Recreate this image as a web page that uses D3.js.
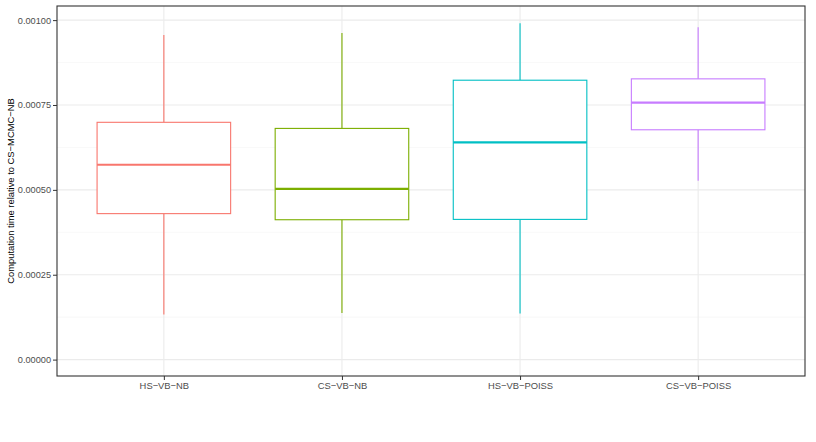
<!DOCTYPE html>
<html>
<head>
<meta charset="utf-8">
<script src="https://cdn.jsdelivr.net/npm/d3@7"></script>
<style>
  html, body { margin: 0; padding: 0; background: #fff; }
  svg { display: block; }
  text { font-family: "Liberation Sans", Arial, sans-serif; }
</style>
</head>
<body>
<svg id="chart" width="816" height="442"></svg>
<script>
const categories = ["HS−VB−NB", "CS−VB−NB", "HS−VB−POISS", "CS−VB−POISS"];
const whiskerLow  = [0.000133, 0.000137, 0.000136, 0.000527];
const q1          = [0.000430, 0.000412, 0.000413, 0.000677];
const medians     = [0.000574, 0.000503, 0.000640, 0.000757];
const q3          = [0.000699, 0.000681, 0.000823, 0.000827];
const whiskerHigh = [0.000956, 0.000962, 0.000991, 0.000979];
const colors      = ["#F8766D", "#7CAE00", "#00BFC4", "#C77CFF"];
const yTicks      = [0, 0.00025, 0.0005, 0.00075, 0.001];
const yMinor      = [0.000125, 0.000375, 0.000625, 0.000875];
const yTitle      = "Computation time relative to CS−MCMC−NB";

const svg = d3.select("#chart");
const panel = { left: 57, right: 805, top: 6, bottom: 376 };

const x = d3.scaleLinear().domain([0.4, 4.6]).range([panel.left, panel.right]);
const y = d3.scaleLinear().domain([-0.0000483, 0.0010416]).range([panel.bottom, panel.top]);
const boxHalf = (x(1.375) - x(1));

// grid
const g = svg.append("g");
g.selectAll(".minor").data(yMinor).enter().append("line")
  .attr("x1", panel.left).attr("x2", panel.right)
  .attr("y1", d => y(d)).attr("y2", d => y(d))
  .attr("stroke", "#F4F4F4").attr("stroke-width", 0.6);
g.selectAll(".major").data(yTicks).enter().append("line")
  .attr("x1", panel.left).attr("x2", panel.right)
  .attr("y1", d => y(d)).attr("y2", d => y(d))
  .attr("stroke", "#EBEBEB").attr("stroke-width", 1.1);
g.selectAll(".vmajor").data(categories).enter().append("line")
  .attr("x1", (d, i) => x(i + 1)).attr("x2", (d, i) => x(i + 1))
  .attr("y1", panel.top).attr("y2", panel.bottom)
  .attr("stroke", "#EBEBEB").attr("stroke-width", 1.1);

// boxes
const boxes = svg.append("g").selectAll("g").data(categories).enter().append("g");
boxes.append("line")
  .attr("x1", (d, i) => x(i + 1)).attr("x2", (d, i) => x(i + 1))
  .attr("y1", (d, i) => y(whiskerHigh[i])).attr("y2", (d, i) => y(q3[i]))
  .attr("stroke", (d, i) => colors[i]).attr("stroke-width", 1.1);
boxes.append("line")
  .attr("x1", (d, i) => x(i + 1)).attr("x2", (d, i) => x(i + 1))
  .attr("y1", (d, i) => y(q1[i])).attr("y2", (d, i) => y(whiskerLow[i]))
  .attr("stroke", (d, i) => colors[i]).attr("stroke-width", 1.1);
boxes.append("rect")
  .attr("x", (d, i) => x(i + 1) - boxHalf)
  .attr("width", 2 * boxHalf)
  .attr("y", (d, i) => y(q3[i]))
  .attr("height", (d, i) => y(q1[i]) - y(q3[i]))
  .attr("fill", "#fff")
  .attr("stroke", (d, i) => colors[i]).attr("stroke-width", 1.1);
boxes.append("line")
  .attr("x1", (d, i) => x(i + 1) - boxHalf).attr("x2", (d, i) => x(i + 1) + boxHalf)
  .attr("y1", (d, i) => y(medians[i])).attr("y2", (d, i) => y(medians[i]))
  .attr("stroke", (d, i) => colors[i]).attr("stroke-width", 2.1);

// panel border
svg.append("rect")
  .attr("x", panel.left).attr("y", panel.top)
  .attr("width", panel.right - panel.left).attr("height", panel.bottom - panel.top)
  .attr("fill", "none").attr("stroke", "#333333").attr("stroke-width", 1.1);

// y axis
const yAxis = d3.axisLeft(y).tickValues(yTicks).tickFormat(d3.format(".5f")).tickSize(4).tickPadding(2);
const ya = svg.append("g").attr("transform", `translate(${panel.left},0)`).call(yAxis);
ya.select(".domain").remove();
ya.selectAll(".tick line").attr("stroke", "#333333").attr("stroke-width", 1);
ya.selectAll(".tick text").attr("fill", "#4D4D4D").style("font-size", "9.2px")
  .style("font-family", "Liberation Sans, Arial, sans-serif");

// x axis
const xAxis = d3.axisBottom(x).tickValues([1, 2, 3, 4]).tickFormat(d => categories[d - 1]).tickSize(4).tickPadding(2);
const xa = svg.append("g").attr("transform", `translate(0,${panel.bottom})`).call(xAxis);
xa.select(".domain").remove();
xa.selectAll(".tick line").attr("stroke", "#333333").attr("stroke-width", 1);
xa.selectAll(".tick text").attr("fill", "#4D4D4D").style("font-size", "9.4px")
  .style("font-family", "Liberation Sans, Arial, sans-serif");

// y title
svg.append("text")
  .attr("transform", `translate(13.5,${(panel.top + panel.bottom) / 2}) rotate(-90)`)
  .attr("text-anchor", "middle")
  .attr("fill", "#000")
  .style("font-size", "9.4px")
  .text(yTitle);
</script>
</body>
</html>
